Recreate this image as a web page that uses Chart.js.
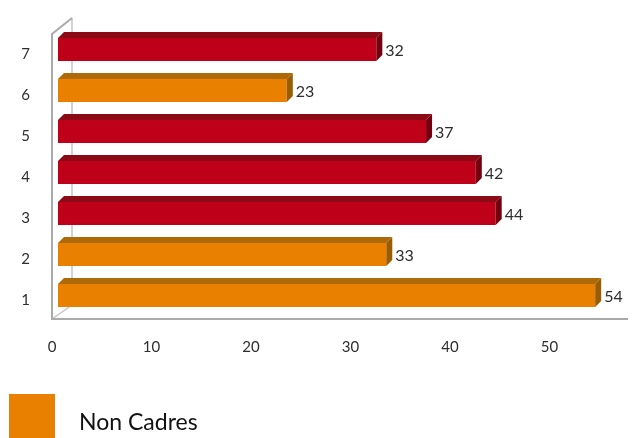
<!DOCTYPE html>
<html>
<head>
<meta charset="utf-8">
<script src="https://cdn.jsdelivr.net/npm/chart.js@4/dist/chart.umd.min.js"></script>
<style>
  html, body { margin: 0; padding: 0; background: #fff; }
  #wrap { width: 637px; height: 438px; }
</style>
</head>
<body>
<div id="wrap"><canvas id="chart1"></canvas></div>
<script>
const categories = ['1', '2', '3', '4', '5', '6', '7'];
const values = [54, 33, 44, 42, 37, 23, 32];
const groups = ['nc', 'nc', 'c', 'c', 'c', 'nc', 'c'];
const xTicks = [0, 10, 20, 30, 40, 50];
const seriesLabel = 'Non Cadres';

const palette = {
  nc: { front: '#E98000', top: '#AE6A08', side: '#9A5C02' },
  c:  { front: '#BE0018', top: '#8C0A16', side: '#74000F' }
};
const DEPTH = 6;

// grey 3D box: back wall, left wall and floor
const wallsPlugin = {
  id: 'walls',
  beforeDatasetsDraw(chart) {
    const { ctx, chartArea } = chart;
    const fx = chartArea.left - 6, bx = fx + 20;
    const fTop = chartArea.top + 5, bTop = fTop - 16;
    const fBot = chartArea.bottom + 3, bBot = fBot - 14;
    ctx.save();
    ctx.strokeStyle = '#C4C4C4';
    ctx.lineWidth = 1.5;
    ctx.beginPath();
    ctx.moveTo(bx, bTop); ctx.lineTo(bx, bBot);
    ctx.moveTo(fx, fBot); ctx.lineTo(bx, bBot);
    ctx.stroke();
    ctx.strokeStyle = '#AAAAAA';
    ctx.lineWidth = 2;
    ctx.beginPath();
    ctx.moveTo(bx, bTop); ctx.lineTo(fx, fTop); ctx.lineTo(fx, fBot);
    ctx.lineTo(chartArea.right - 2, fBot);
    ctx.stroke();
    ctx.restore();
  }
};

// top and side faces of each bar, then the value labels
const barsPlugin = {
  id: 'bars3d',
  afterDatasetsDraw(chart) {
    const { ctx } = chart;
    const meta = chart.getDatasetMeta(0);
    ctx.save();
    meta.data.forEach((bar, i) => {
      const col = palette[groups[i]];
      const l = bar.base, r = bar.x;
      const t = bar.y - bar.height / 2, b = bar.y + bar.height / 2;
      ctx.fillStyle = col.top;
      ctx.beginPath();
      ctx.moveTo(l, t); ctx.lineTo(l + DEPTH, t - DEPTH);
      ctx.lineTo(r + DEPTH, t - DEPTH); ctx.lineTo(r, t);
      ctx.closePath(); ctx.fill();
      ctx.fillStyle = col.side;
      ctx.beginPath();
      ctx.moveTo(r, t); ctx.lineTo(r + DEPTH, t - DEPTH);
      ctx.lineTo(r + DEPTH, b - DEPTH); ctx.lineTo(r, b);
      ctx.closePath(); ctx.fill();

      ctx.fillStyle = '#2E2E2E';
      ctx.font = '16px Lato';
      ctx.textAlign = 'left';
      ctx.textBaseline = 'middle';
      ctx.fillText(String(values[i]), r + 9, bar.y + 1);
    });
    ctx.restore();
  }
};

const legendPlugin = {
  id: 'swatch',
  afterDraw(chart) {
    const { ctx } = chart;
    ctx.save();
    ctx.fillStyle = palette.nc.front;
    ctx.fillRect(9, 394, 46, 50);
    ctx.fillStyle = '#111';
    ctx.font = '23px Lato';
    ctx.textAlign = 'left';
    ctx.textBaseline = 'middle';
    ctx.fillText(chart.data.datasets[0].label, 79, 423);
    ctx.restore();
  }
};

document.addEventListener('DOMContentLoaded', () => {
  const ctx = document.getElementById('chart1').getContext('2d');

  const data = {
    labels: categories,
    datasets: [{
      label: seriesLabel,
      data: values,
      backgroundColor: groups.map(g => palette[g].front),
      borderWidth: 0,
      categoryPercentage: 1,
      barPercentage: 0.56
    }]
  };

  const config = {
    type: 'bar',
    data: data,
    options: {
      indexAxis: 'y',
      responsive: true,
      maintainAspectRatio: false,
      animation: false,
      layout: { padding: { top: 15, right: 7, left: 0, bottom: 72 } },
      plugins: {
        legend: { display: false },
        tooltip: { enabled: false }
      },
      scales: {
        x: {
          min: 0,
          max: 57.5,
          grid: { display: false },
          border: { display: false },
          afterBuildTicks: (scale) => { scale.ticks = xTicks.map(v => ({ value: v })); },
          afterFit: (scale) => { scale.height = 50; },
          ticks: {
            color: '#2E2E2E',
            font: { family: 'Lato', size: 15 },
            padding: 14,
            labelOffset: -6,
            maxRotation: 0
          }
        },
        y: {
          reverse: true,
          grid: { display: false },
          border: { display: false },
          afterFit: (scale) => { scale.width = 58; },
          ticks: {
            color: '#2E2E2E',
            font: { family: 'Lato', size: 15 },
            padding: 20,
            labelOffset: 5
          }
        }
      }
    },
    plugins: [wallsPlugin, barsPlugin, legendPlugin]
  };

  const newChart = new Chart(ctx, config);
});
</script>
</body>
</html>
